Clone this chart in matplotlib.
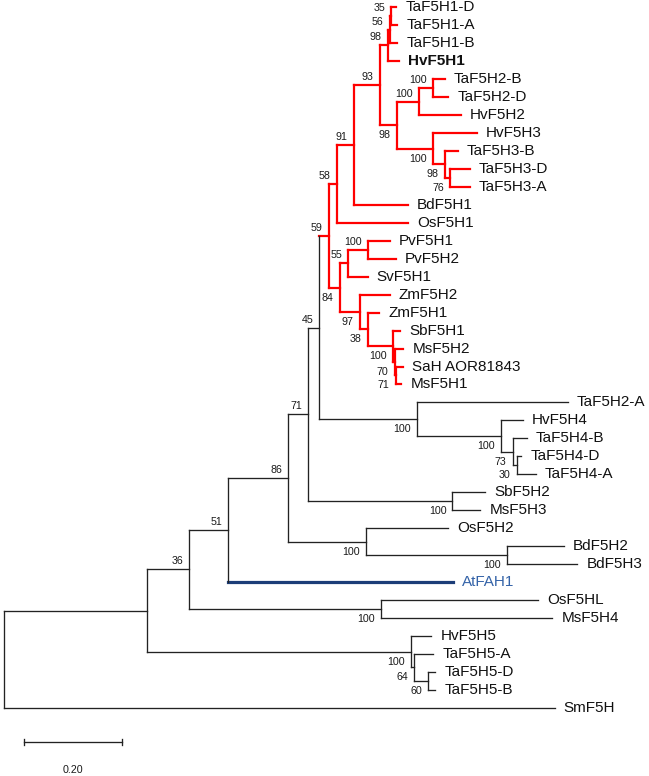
import matplotlib
matplotlib.use('Agg')
import matplotlib.pyplot as plt

# internal nodes (listed parent before child): name, parent, branch length, bootstrap
node_names = ['A', 'B', 'C', 'N86', 'Q', 'P', 'R', 'N58', 'N91', 'N93',
              'X3', 'X2', 'X1', 'N98', 'N100a', 'N100b', 'N100c', 'N98b', 'N76', 'N84',
              'N55', 'N100p', 'N97', 'N38', 'N100s', 'N70', 'N71', 'H2A', 'H4', 'H4b',
              'H4c', 'SbMs', 'Os', 'Bd', 'OsHL', 'H5', 'H5a', 'H5b']
node_parents = ['root', 'A', 'B', 'C', 'N86', 'Q', 'P', 'R', 'N58', 'N91',
                'N93', 'X3', 'X2', 'N93', 'N98', 'N100a', 'N98', 'N100c', 'N98b', 'R',
                'N84', 'N55', 'N84', 'N97', 'N38', 'N100s', 'N70', 'P', 'H2A', 'H4',
                'H4b', 'Q', 'N86', 'Os', 'B', 'A', 'H5', 'H5a']
node_lengths = [0.292, 0.086, 0.080, 0.122, 0.041, 0.022, 0.020, 0.016, 0.035, 0.053,
                0.016, 0.004, 0.003, 0.035, 0.045, 0.029, 0.073, 0.024, 0.012, 0.022,
                0.018, 0.039, 0.041, 0.016, 0.051, 0.004, 0.002, 0.200, 0.171, 0.024,
                0.008, 0.294, 0.159, 0.288, 0.392, 0.539, 0.006, 0.029]
node_boot = [None, 36, 51, 86, 71, 45, 59, 58, 91, 93,
             98, 56, 35, 98, 100, 100, 100, 98, 76, 84,
             55, 100, 97, 38, 100, 70, 71, 100, 100, 73,
             30, 100, 100, 100, 100, 100, 64, 60]
# where the bootstrap value sits relative to the node
boot_side = ['up', 'up', 'up', 'up', 'up', 'up', 'up', 'up', 'up', 'up',
             'up', 'up', 'up', 'down', 'up', 'up', 'down', 'down', 'down', 'down',
             'up', 'up', 'down', 'down', 'down', 'down', 'down', 'down', 'down', 'down',
             'down', 'down', 'down', 'down', 'down', 'down', 'down', 'down']

# leaves, top to bottom
leaf_names = ['TaF5H1-D', 'TaF5H1-A', 'TaF5H1-B', 'HvF5H1', 'TaF5H2-B', 'TaF5H2-D',
              'HvF5H2', 'HvF5H3', 'TaF5H3-B', 'TaF5H3-D', 'TaF5H3-A', 'BdF5H1',
              'OsF5H1', 'PvF5H1', 'PvF5H2', 'SvF5H1', 'ZmF5H2', 'ZmF5H1', 'SbF5H1',
              'MsF5H2', 'SaH AOR81843', 'MsF5H1', 'TaF5H2-A', 'HvF5H4', 'TaF5H4-B',
              'TaF5H4-D', 'TaF5H4-A', 'SbF5H2', 'MsF5H3', 'OsF5H2', 'BdF5H2', 'BdF5H3',
              'AtFAH1', 'OsF5HL', 'MsF5H4', 'HvF5H5', 'TaF5H5-A', 'TaF5H5-D', 'TaF5H5-B',
              'SmF5H']
leaf_parents = ['X1', 'X1', 'X2', 'X3', 'N100b', 'N100b',
                'N100a', 'N100c', 'N98b', 'N76', 'N76', 'N91',
                'N58', 'N100p', 'N100p', 'N55', 'N97', 'N38', 'N100s',
                'N70', 'N71', 'N71', 'H2A', 'H4', 'H4b',
                'H4c', 'H4c', 'SbMs', 'SbMs', 'Os', 'Bd', 'Bd',
                'C', 'OsHL', 'OsHL', 'H5', 'H5a', 'H5b', 'H5b',
                'root']
leaf_lengths = [0.011, 0.013, 0.016, 0.024, 0.024, 0.031,
                0.086, 0.090, 0.027, 0.039, 0.039, 0.110,
                0.145, 0.045, 0.057, 0.039, 0.061, 0.024, 0.016,
                0.018, 0.016, 0.012, 0.308, 0.045, 0.029,
                0.010, 0.039, 0.067, 0.057, 0.167, 0.116, 0.143,
                0.459, 0.320, 0.349, 0.041, 0.039, 0.014, 0.014,
                1.124]

red_clade = 'R'
blue_leaf = 'AtFAH1'
bold_leaf = 'HvF5H1'
scale_len = 0.20

RED = '#ff0000'
BLACK = '#222222'
BLUE_LINE = '#1c3d78'
BLUE_TEXT = '#3463a8'

# pixel sizes in data units (490 px per substitution unit, 17.96 px per leaf)
PX = 1.0 / 490
PY = 1.0 / 17.96

parent = dict(zip(node_names, node_parents))
parent.update(zip(leaf_names, leaf_parents))
length = dict(zip(node_names, node_lengths))
length.update(zip(leaf_names, leaf_lengths))

x = {'root': 0.0}
for n in node_names + leaf_names:
    x[n] = x[parent[n]] + length[n]

children = {}
for n in node_names + leaf_names:
    children.setdefault(parent[n], []).append(n)

y = {n: float(i) for i, n in enumerate(leaf_names)}
for n in reversed(['root'] + node_names):
    ys = [y[c] for c in children[n]]
    y[n] = (min(ys) + max(ys)) / 2

color = {'root': BLACK}
for n in node_names + leaf_names:
    if n == red_clade or color[parent[n]] == RED:
        color[n] = RED
    else:
        color[n] = BLACK
color[blue_leaf] = BLUE_LINE

width = {RED: 1.6, BLACK: 0.95, BLUE_LINE: 2.3}

fig = plt.figure(figsize=(6.49, 7.76), dpi=100)
ax = fig.add_axes([0, 0, 1, 1])
ax.set_xlim(-4 * PX, 645 * PX)
ax.set_ylim((776 - 7.3) * PY, -7.3 * PY)
ax.axis('off')

# horizontal branches
for n in node_names + leaf_names:
    c = color[n]
    ax.plot([x[parent[n]], x[n]], [y[n], y[n]], color=c, lw=width[c],
            solid_capstyle='projecting')

# vertical connectors
for n in ['root'] + node_names:
    ys = [y[ch] for ch in children[n]]
    c = color[n]
    ax.plot([x[n], x[n]], [min(ys), max(ys)], color=c, lw=width[c],
            solid_capstyle='projecting')

# leaf labels
for n in leaf_names:
    kw = dict(fontsize=11, family='Liberation Sans', color='#111111')
    if n == bold_leaf:
        kw['fontweight'] = 'bold'
    if n == blue_leaf:
        kw['color'] = BLUE_TEXT
    ax.text(x[n] + 9 * PX, y[n], n, ha='left', va='center', **kw)

# bootstrap values
for n, b, side in zip(node_names, node_boot, boot_side):
    if b is None:
        continue
    dy = -8 if side == 'up' else 10
    ax.text(x[n] - 6 * PX, y[n] + dy * PY, str(b), ha='right', va='center',
            fontsize=7.7, family='Liberation Sans', color='#1a1a1a')

# scale bar
sx0 = 20 * PX
sy = (742 - 7.3) * PY
ax.plot([sx0, sx0 + scale_len], [sy, sy], color=BLACK, lw=0.95)
for sx in (sx0, sx0 + scale_len):
    ax.plot([sx, sx], [sy - 3 * PY, sy + 3 * PY], color=BLACK, lw=0.95)
ax.text(sx0 + scale_len / 2, (770 - 7.3) * PY, f'{scale_len:.2f}', ha='center', va='center',
        fontsize=7.7, family='Liberation Sans', color='#1a1a1a')

plt.savefig('out.png', dpi=100)
plt.close()
